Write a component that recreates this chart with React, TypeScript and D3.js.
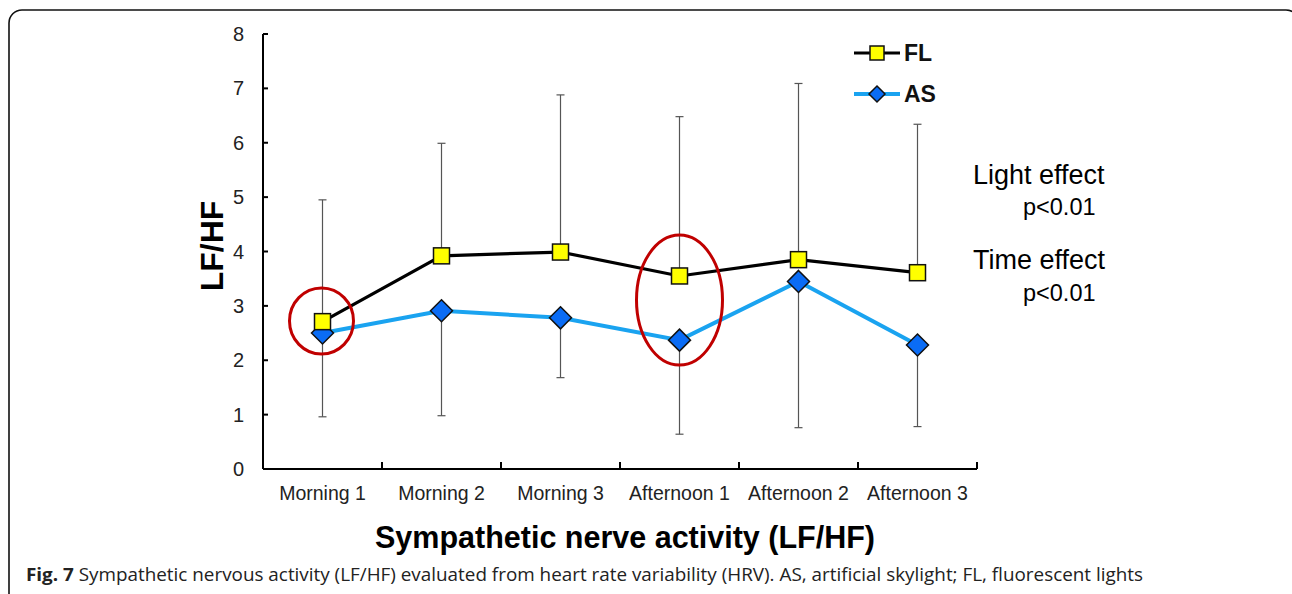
import React from "react";
import * as d3 from "d3";

const categories = ["Morning 1", "Morning 2", "Morning 3", "Afternoon 1", "Afternoon 2", "Afternoon 3"];
const flValues = [2.71, 3.92, 3.99, 3.55, 3.85, 3.61];
const asValues = [2.5, 2.91, 2.78, 2.37, 3.45, 2.28];
const flUpper = [4.95, 5.99, 6.88, 6.48, 7.09, 6.34];
const asLower = [0.96, 0.98, 1.68, 0.64, 0.76, 0.78];
const yTicks = [0, 1, 2, 3, 4, 5, 6, 7, 8];

const W = 1292;
const H = 594;
const left = 263, right = 977, top = 34, bottom = 469;

export default function App() {
  const x = d3.scaleBand<string>().domain(categories).range([left, right]);
  const y = d3.scaleLinear().domain([0, 8]).range([bottom, top]);
  const cx = (c: string) => (x(c) as number) + x.bandwidth() / 2;
  const line = d3.line<number>().x((_, i) => cx(categories[i])).y((v) => y(v));
  const font = "'Liberation Sans', Arial, sans-serif";
  const sq = 16;
  const dm = 11;
  const diamond = (px: number, py: number) =>
    `M${px},${py - dm} L${px + dm},${py} L${px},${py + dm} L${px - dm},${py} Z`;

  return (
    <svg width={W} height={H} style={{ position: "absolute", left: 0, top: 0, background: "#fff" }} fontFamily={font}>
      <rect x={0} y={0} width={W} height={H} fill="#fff" />
      <rect x={9} y={10} width={1290} height={800} rx={13} ry={13} fill="none" stroke="#111" strokeWidth={1.6} />

      {/* axes */}
      <line x1={left} x2={left} y1={top} y2={bottom} stroke="#000" strokeWidth={2} />
      <line x1={left} x2={right} y1={bottom} y2={bottom} stroke="#000" strokeWidth={2} />
      {yTicks.map((t) => (
        <g key={t}>
          <line x1={left} x2={left + 5} y1={y(t)} y2={y(t)} stroke="#000" strokeWidth={2} />
          <text x={244} y={y(t)} dy="0.35em" textAnchor="end" fontSize={20} fill="#222">{t}</text>
        </g>
      ))}
      {categories.map((c, i) => (
        <g key={c}>
          <line x1={(x(c) as number) + x.bandwidth()} x2={(x(c) as number) + x.bandwidth()} y1={bottom} y2={bottom - 7} stroke="#000" strokeWidth={2} />
          <text x={cx(c)} y={500} textAnchor="middle" fontSize={19.5} fill="#222">{c}</text>
        </g>
      ))}
      <text transform={`translate(223,246) rotate(-90)`} textAnchor="middle" fontSize={32} fontWeight="bold" fill="#000">LF/HF</text>
      <text x={625} y={548} textAnchor="middle" fontSize={30.5} fontWeight="bold" fill="#000">Sympathetic nerve activity (LF/HF)</text>

      {/* error bars */}
      {categories.map((c, i) => (
        <g key={"e" + c} stroke="#555" strokeWidth={1.2}>
          <line x1={cx(c)} x2={cx(c)} y1={y(flValues[i])} y2={y(flUpper[i])} />
          <line x1={cx(c) - 4} x2={cx(c) + 4} y1={y(flUpper[i])} y2={y(flUpper[i])} />
          <line x1={cx(c)} x2={cx(c)} y1={y(asValues[i])} y2={y(asLower[i])} />
          <line x1={cx(c) - 4} x2={cx(c) + 4} y1={y(asLower[i])} y2={y(asLower[i])} />
        </g>
      ))}

      {/* lines */}
      <path d={line(asValues) as string} fill="none" stroke="#1aa3f0" strokeWidth={4} />
      <path d={line(flValues) as string} fill="none" stroke="#000" strokeWidth={3.2} />
      {asValues.map((v, i) => (
        <path key={"a" + i} d={diamond(cx(categories[i]), y(v))} fill="#0a6cf5" stroke="#111" strokeWidth={1.5} />
      ))}
      {flValues.map((v, i) => (
        <rect key={"f" + i} x={cx(categories[i]) - sq / 2} y={y(v) - sq / 2} width={sq} height={sq} fill="#ffff00" stroke="#111" strokeWidth={1.5} />
      ))}

      {/* highlight ellipses */}
      <ellipse cx={cx(categories[0]) - 1} cy={321} rx={32} ry={33} fill="none" stroke="#c00000" strokeWidth={3} />
      <ellipse cx={cx(categories[3])} cy={300} rx={43} ry={65} fill="none" stroke="#c00000" strokeWidth={3} />

      {/* legend */}
      <line x1={854} x2={900} y1={53} y2={53} stroke="#000" strokeWidth={3.2} />
      <rect x={877 - 7} y={53 - 7} width={14} height={14} fill="#ffff00" stroke="#111" strokeWidth={1.5} />
      <text x={904} y={53} dy="0.36em" fontSize={23} fontWeight="bold" fill="#111">FL</text>
      <line x1={854} x2={900} y1={94} y2={94} stroke="#1aa3f0" strokeWidth={4} />
      <path d={`M877,86 L885,94 L877,102 L869,94 Z`} fill="#0a6cf5" stroke="#111" strokeWidth={1.5} />
      <text x={904} y={94} dy="0.36em" fontSize={23} fontWeight="bold" fill="#111">AS</text>

      {/* stats */}
      <text x={973} y={184} fontSize={27} fill="#000">Light effect</text>
      <text x={1023} y={215} fontSize={23.5} fill="#000">p&lt;0.01</text>
      <text x={973} y={269} fontSize={27} fill="#000">Time effect</text>
      <text x={1023} y={301} fontSize={23.5} fill="#000">p&lt;0.01</text>

      {/* caption */}
      <text x={26} y={581} fontSize={18} fontFamily="'Open Sans', sans-serif" fill="#222" textLength={1117} lengthAdjust="spacingAndGlyphs">
        <tspan fontWeight="bold">Fig. 7</tspan>
        <tspan> Sympathetic nervous activity (LF/HF) evaluated from heart rate variability (HRV). AS, artificial skylight; FL, fluorescent lights</tspan>
      </text>
    </svg>
  );
}
